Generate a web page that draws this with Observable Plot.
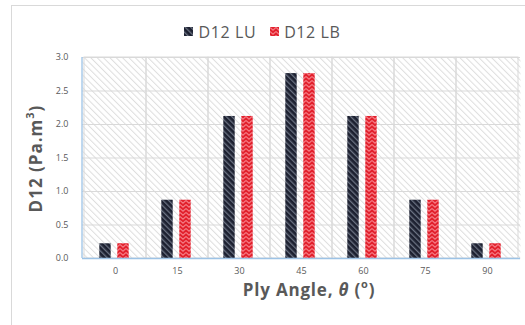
<!DOCTYPE html>
<html><head><meta charset="utf-8">
<script src="https://cdn.jsdelivr.net/npm/d3@7"></script>
<script src="https://cdn.jsdelivr.net/npm/@observablehq/plot@0.6"></script>
<style>
body{margin:0;background:#fff;}
#wrap{position:relative;width:525px;height:325px;overflow:hidden;font-family:"Open Sans",sans-serif;}
#border{position:absolute;left:11px;top:5px;width:540px;height:340px;border:1px solid #d9d9d9;box-sizing:border-box;pointer-events:none;}
#legend{position:relative;height:44px;box-sizing:border-box;padding-top:19px;display:flex;justify-content:center;gap:14px;color:#595959;font-size:16px;letter-spacing:0.6px;line-height:20px;}
#legend .item{display:flex;align-items:center;gap:5px;}
#legend svg{display:block;}
#chart svg{display:block;}
</style></head>
<body>
<div id="wrap">
  <div id="border"></div>
  <div id="legend"></div>
  <div id="chart"></div>
</div>
<script>
const angles = ["0", "15", "30", "45", "60", "75", "90"];
const luValues = [0.22, 0.87, 2.12, 2.76, 2.12, 0.87, 0.22];
const lbValues = [0.22, 0.87, 2.12, 2.76, 2.12, 0.87, 0.22];
const seriesNames = ["D12 LU", "D12 LB"];
const yTicks = [0, 0.5, 1.0, 1.5, 2.0, 2.5, 3.0];
const yTitle = "D12 (Pa.m";
const xTitle = "Ply Angle, ";

const W = 525, H = 281, ML = 82, MR = 5, MT = 13, MB = 67;
const bw = (W - ML - MR) / angles.length;
const font = '"Open Sans", sans-serif';

const patternDefs = `
<pattern id="pBG" patternUnits="userSpaceOnUse" width="4.5" height="4.5" patternTransform="rotate(-45)">
  <rect width="4.5" height="4.5" fill="#ffffff"/>
  <rect width="1" height="4.5" fill="#dedede"/>
</pattern>
<pattern id="pLU" patternUnits="userSpaceOnUse" width="4" height="4" patternTransform="rotate(-45)">
  <rect width="4" height="4" fill="#1c2030"/>
  <rect width="1.3" height="4" fill="#6b7282"/>
</pattern>
<pattern id="pLB" patternUnits="userSpaceOnUse" width="6" height="4">
  <rect width="6" height="4" fill="#e2202c"/>
  <polyline points="0,0.5 3,3.2 6,0.5" fill="none" stroke="#f57b84" stroke-width="1.1"/>
</pattern>`;

// legend
const fills = ["url(#pLU)", "url(#pLB)"];
const legend = d3.select("#legend");
seriesNames.forEach((name, i) => {
  const item = legend.append("div").attr("class", "item");
  const s = item.append("svg").attr("width", 9).attr("height", 9);
  s.append("rect").attr("width", 9).attr("height", 9).attr("fill", fills[i]);
  item.append("span").text(name);
});

const luData = angles.map((a, i) => ({angle: a, value: luValues[i]}));
const lbData = angles.map((a, i) => ({angle: a, value: lbValues[i]}));

const plot = Plot.plot({
  width: W, height: H,
  marginLeft: ML, marginRight: MR, marginTop: MT, marginBottom: MB,
  style: {fontFamily: font, fontSize: "9px", color: "#595959", background: "transparent", overflow: "visible"},
  x: {type: "band", domain: angles, padding: 0, tickSize: 0, tickPadding: 9, label: null},
  y: {domain: [0, 3], ticks: yTicks, tickFormat: d3.format(".1f"), tickSize: 0, tickPadding: 14, label: null},
  marks: [
    Plot.frame({fill: "url(#pBG)"}),
    Plot.ruleY(yTicks, {stroke: "#d9d9d9", strokeWidth: 1}),
    Plot.barY(angles, {x: d => d, y1: () => 0, y2: () => 3, fill: "none", stroke: "#d9d9d9", strokeWidth: 1, inset: 0}),
    Plot.barY(luData, {x: "angle", y: "value", fill: "url(#pLU)", insetLeft: bw / 2 - 16, insetRight: bw / 2 + 4}),
    Plot.barY(lbData, {x: "angle", y: "value", fill: "url(#pLB)", insetLeft: bw / 2 + 2, insetRight: bw / 2 - 14}),
    Plot.ruleY([0], {stroke: "#9dc3e6", strokeWidth: 1.3})
  ]
});

const svg = d3.select(plot);
svg.insert("defs", ":first-child").html(patternDefs);

const xr = plot.scale("x").range, yr = plot.scale("y").range;
// left axis line
svg.append("line").attr("x1", xr[0]).attr("x2", xr[0]).attr("y1", yr[0]).attr("y2", yr[1])
  .attr("stroke", "#9dc3e6").attr("stroke-width", 1.3);

// y title
const yt = svg.append("text")
  .attr("transform", `translate(37,${(yr[0] + yr[1]) / 2 + 1}) rotate(-90)`)
  .attr("text-anchor", "middle").attr("dominant-baseline", "middle")
  .attr("font-family", font).attr("font-weight", "bold").attr("font-size", 17)
  .attr("letter-spacing", 1).attr("fill", "#595959");
yt.append("tspan").text(yTitle);
yt.append("tspan").attr("dy", -6).attr("font-size", 11).text("3");
yt.append("tspan").attr("dy", 6).text(")");

// x title
const xt = svg.append("text")
  .attr("x", 309).attr("y", yr[0] + 33)
  .attr("text-anchor", "middle").attr("dominant-baseline", "middle")
  .attr("font-family", font).attr("font-weight", "bold").attr("font-size", 17)
  .attr("letter-spacing", 0.8).attr("fill", "#595959");
xt.append("tspan").text(xTitle);
xt.append("tspan").attr("font-style", "italic").text("θ");
xt.append("tspan").text(" (");
xt.append("tspan").attr("dy", -6).attr("font-size", 11).text("o");
xt.append("tspan").attr("dy", 6).text(")");

document.getElementById("chart").appendChild(plot);
</script>
</body></html>
